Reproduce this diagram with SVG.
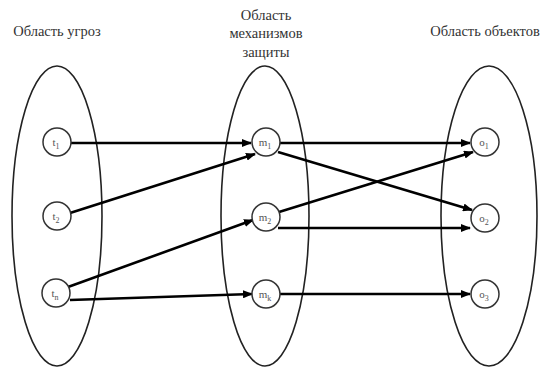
<svg xmlns="http://www.w3.org/2000/svg" width="546" height="367" viewBox="0 0 546 367">
<style>
.area{fill:none;stroke:#222;stroke-width:1.6}
.node{fill:#fff;stroke:#333;stroke-width:1.5}
.lbl{font-size:14.5px;fill:#333;text-anchor:middle}
.nl{font-size:11px;fill:#555;text-anchor:middle}
.sub{font-size:8px}
.edge{stroke:#000;stroke-width:2.6;fill:none;marker-end:url(#ah)}
</style>
<defs>
<marker id="ah" markerWidth="10" markerHeight="8" refX="9" refY="4" orient="auto" markerUnits="userSpaceOnUse">
<path d="M0,0 L10,4 L0,8 Z" fill="#000"/>
</marker>
</defs>
<rect width="546" height="367" fill="#fff"/>
<g id="titles" font-family="Liberation Serif, DejaVu Serif, serif">
<text class="lbl" x="57" y="36">Область угроз</text>
<text class="lbl" x="266" y="20">Область</text>
<text class="lbl" x="266" y="38">механизмов</text>
<text class="lbl" x="266" y="57">защиты</text>
<text class="lbl" x="485" y="36">Область объектов</text>
</g>
<g id="areas">
<ellipse id="area-threats" class="area" cx="57" cy="216" rx="45" ry="150"/>
<ellipse id="area-mech" class="area" cx="265" cy="216" rx="44" ry="150"/>
<ellipse id="area-objects" class="area" cx="489" cy="216" rx="48" ry="150"/>
</g>
<g id="connectors">
<line class="edge" x1="71" y1="143" x2="251" y2="143"/>
<line class="edge" x1="70" y1="213" x2="255" y2="154"/>
<line class="edge" x1="68" y1="287" x2="253" y2="220"/>
<line class="edge" x1="70" y1="300" x2="252" y2="294"/>
<line class="edge" x1="280" y1="143" x2="470" y2="143"/>
<line class="edge" x1="278" y1="152" x2="472" y2="210"/>
<line class="edge" x1="279" y1="212" x2="473" y2="152"/>
<line class="edge" x1="278" y1="228" x2="470" y2="228"/>
<line class="edge" x1="280" y1="294" x2="470" y2="294"/>
</g>
<g id="nodes" font-family="Liberation Serif, DejaVu Serif, serif">
<g id="t1"><circle class="node" cx="57" cy="142" r="14"/><text class="nl" x="56" y="146">t<tspan class="sub" dy="3">1</tspan></text></g>
<g id="t2"><circle class="node" cx="57" cy="216" r="14"/><text class="nl" x="56" y="220">t<tspan class="sub" dy="3">2</tspan></text></g>
<g id="tn"><circle class="node" cx="56" cy="293" r="14"/><text class="nl" x="55" y="297">t<tspan class="sub" dy="3">n</tspan></text></g>
<g id="m1"><circle class="node" cx="266" cy="142" r="14"/><text class="nl" x="265" y="146">m<tspan class="sub" dy="3">1</tspan></text></g>
<g id="m2"><circle class="node" cx="266" cy="217" r="14"/><text class="nl" x="265" y="221">m<tspan class="sub" dy="3">2</tspan></text></g>
<g id="mk"><circle class="node" cx="266" cy="294" r="14"/><text class="nl" x="265" y="298">m<tspan class="sub" dy="3">k</tspan></text></g>
<g id="o1"><circle class="node" cx="485" cy="142" r="14"/><text class="nl" x="484" y="146">o<tspan class="sub" dy="3">1</tspan></text></g>
<g id="o2"><circle class="node" cx="485" cy="218" r="14"/><text class="nl" x="484" y="222">o<tspan class="sub" dy="3">2</tspan></text></g>
<g id="o3"><circle class="node" cx="485" cy="294" r="14"/><text class="nl" x="484" y="298">o<tspan class="sub" dy="3">3</tspan></text></g>
</g>
</svg>
